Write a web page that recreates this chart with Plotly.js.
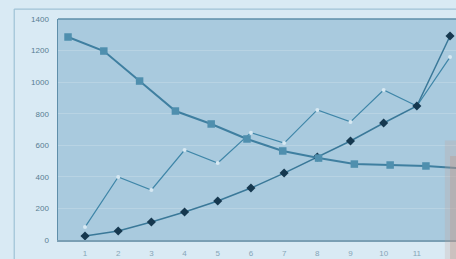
<!DOCTYPE html>
<html>
<head>
<meta charset="utf-8">
<script src="https://cdn.plot.ly/plotly-3.0.1.min.js"></script>
<style>
html,body{margin:0;padding:0;background:#d9eaf4;}
#chart{width:456px;height:259px;}
</style>
</head>
<body>
<div id="chart"></div>
<script>
// Categories (x positions 1..12; only 1..11 labelled in the picture)
const categories = [1,2,3,4,5,6,7,8,9,10,11,12];
const tickLabels = ["1","2","3","4","5","6","7","8","9","10","11"];
const yTicks = [0,200,400,600,800,1000,1200,1400];

// Series
const squareSeries  = [1286,1197,1007,817,735,640,564,519,481,475,469,453];
const diamondSeries = [25,57,114,177,247,329,424,526,627,741,849,1292];
const thinSeries    = [82,399,317,570,488,680,614,824,748,950,849,1159];

const traces = [
  {
    x: categories, y: squareSeries, xaxis: 'x2', yaxis: 'y',
    type: 'scatter', mode: 'lines+markers',
    line: {color: '#3f7fa0', width: 2},
    marker: {symbol: 'square', size: 7.5, color: '#4f8fae'},
    cliponaxis: true
  },
  {
    x: categories, y: thinSeries,
    type: 'scatter', mode: 'lines+markers',
    line: {color: '#3f86a8', width: 1.2},
    marker: {symbol: 'circle', size: 4, color: '#d6e8f2'},
    cliponaxis: false
  },
  {
    x: categories, y: diamondSeries,
    type: 'scatter', mode: 'lines+markers',
    line: {color: '#3a7898', width: 1.5},
    marker: {symbol: 'diamond', size: 7, color: '#16384f'},
    cliponaxis: false
  }
];

const layout = {
  width: 456, height: 259,
  margin: {l: 58, r: 0, t: 19, b: 19},
  paper_bgcolor: '#d9eaf4',
  plot_bgcolor: '#a9cade',
  showlegend: false,
  font: {family: 'Liberation Sans, Arial, sans-serif', size: 8, color: '#5f8499'},
  xaxis: {
    range: [0.186, 12.18],
    tickmode: 'array',
    tickvals: tickLabels.map(Number),
    ticktext: tickLabels,
    showgrid: false, zeroline: false,
    showline: true, linecolor: '#7a9fb4', linewidth: 1.5,
    ticks: '', ticklabelstandoff: 5,
    tickfont: {size: 8, color: '#86a5b7'}
  },
  xaxis2: {
    overlaying: 'x', range: [0.72, 11.84], visible: false
  },
  yaxis: {
    range: [0, 1400],
    tickmode: 'array', tickvals: yTicks,
    showgrid: true, gridcolor: '#b8d3e3', gridwidth: 1,
    zeroline: false,
    showline: true, linecolor: '#5f8faa', linewidth: 1.5,
    ticks: '', ticklabelstandoff: 6,
    tickfont: {size: 8, color: '#587d92'}
  },
  shapes: [
    {type: 'line', xref: 'paper', yref: 'paper', x0: 0, x1: 1.05, y0: 1, y1: 1,
     line: {color: '#5f8faa', width: 1.5}},
    {type: 'line', xref: 'paper', yref: 'paper', x0: -0.11, x1: 1.1, y0: 1.045, y1: 1.045,
     line: {color: '#9fc2d6', width: 1.2}},
    {type: 'line', xref: 'paper', yref: 'paper', x0: -0.11, x1: -0.11, y0: 1.045, y1: -0.1,
     line: {color: '#9fc2d6', width: 1.2}},
    {type: 'rect', xref: 'paper', yref: 'paper', x0: 0.972, x1: 1.05, y0: 0.45, y1: -0.12,
     fillcolor: 'rgba(196,160,145,0.22)', line: {width: 0}, layer: 'above'},
    {type: 'rect', xref: 'paper', yref: 'paper', x0: 0.985, x1: 1.05, y0: 0.38, y1: -0.12,
     fillcolor: 'rgba(190,150,135,0.35)', line: {width: 0}, layer: 'above'}
  ]
};

Plotly.newPlot('chart', traces, layout, {displayModeBar: false, staticPlot: true});
</script>
</body>
</html>
